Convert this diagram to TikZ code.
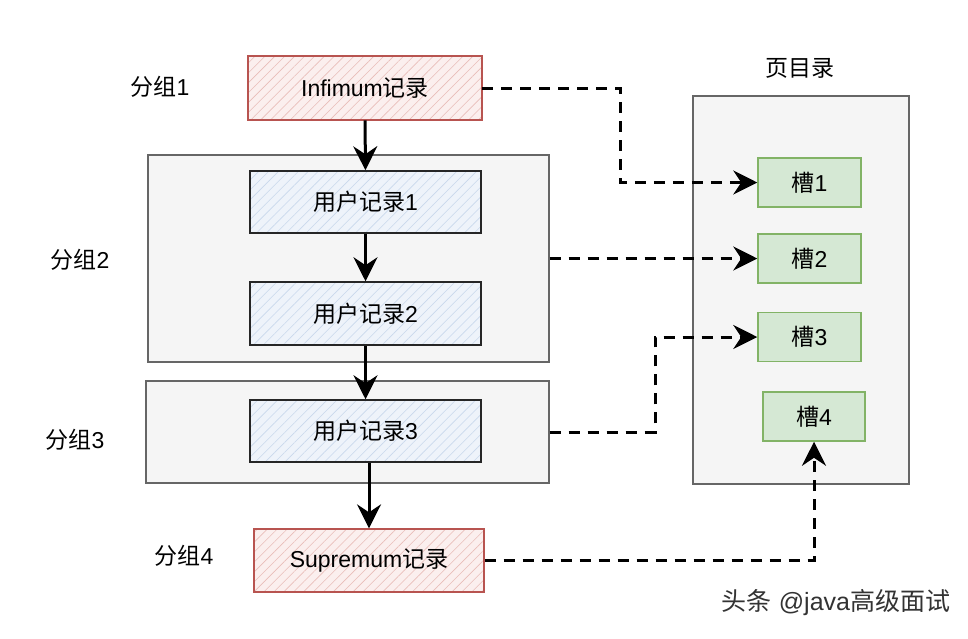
\documentclass[tikz,border=0pt]{standalone}
\usepackage{fontspec}
\setmainfont{Liberation Sans}
\newfontfamily\cjk{Noto Sans CJK SC}
\usetikzlibrary{arrows.meta,patterns.meta}
\definecolor{redline}{HTML}{B85450}
\definecolor{redbg}{HTML}{FBEFEE}
\definecolor{redhatch}{HTML}{E9BDB9}
\definecolor{bluebg}{HTML}{EEF3FA}
\definecolor{bluehatch}{HTML}{C9D8EC}
\definecolor{greenbg}{HTML}{D5E8D4}
\definecolor{greenline}{HTML}{82B366}
\definecolor{grpbg}{HTML}{F5F5F5}
\definecolor{grpline}{HTML}{666666}
\definecolor{wmark}{HTML}{333333}
\tikzset{
  txt/.style={font=\fontsize{23}{27}\selectfont, text=black},
  grpbox/.style={draw=grpline, fill=grpbg, line width=1.3pt, rectangle},
  redrec/.style={txt, rectangle, draw=redline, line width=1.3pt, preaction={fill=redbg},
    pattern={Lines[angle=45,distance=7pt,line width=0.6pt]}, pattern color=redhatch},
  bluerec/.style={txt, rectangle, draw=black!85, line width=1.5pt, preaction={fill=bluebg},
    pattern={Lines[angle=45,distance=7pt,line width=0.6pt]}, pattern color=bluehatch},
  slotbox/.style={txt, rectangle, draw=greenline, fill=greenbg, line width=1.5pt,
    minimum width=103pt, minimum height=49pt},
  solidarr/.style={line width=3pt, -{Stealth[length=24pt,width=24pt,inset=8pt]}},
  dasharr/.style={line width=3pt, dash pattern=on 11pt off 8pt, -{Stealth[length=24pt,width=24pt,inset=8pt]}},
  lbl/.style={txt}
}
\begin{document}
\begin{tikzpicture}[x=1pt,y=-1pt]
\useasboundingbox[fill=white] (0,0) rectangle (968,638);
% group boxes
\node[grpbox, minimum width=401pt, minimum height=207pt] (g2) at (348.5,258.5) {};
\node[grpbox, minimum width=403pt, minimum height=102pt] (g3) at (347.5,432) {};
\node[grpbox, minimum width=216pt, minimum height=388pt] (pd) at (801,290) {};
% records
\node[redrec, minimum width=234pt, minimum height=64pt] (inf) at (365,88) {Infimum{\cjk 记录}};
\node[bluerec, minimum width=231pt, minimum height=62pt] (r1) at (365.5,202) {{\cjk 用户记录}1};
\node[bluerec, minimum width=231pt, minimum height=63pt] (r2) at (365.5,313.5) {{\cjk 用户记录}2};
\node[bluerec, minimum width=231pt, minimum height=62pt] (r3) at (365.5,431) {{\cjk 用户记录}3};
\node[redrec, minimum width=230pt, minimum height=63pt] (sup) at (369,560.5) {Supremum{\cjk 记录}};
% slots
\node[slotbox] (s1) at (809.5,182.5) {{\cjk 槽}1};
\node[slotbox] (s2) at (809.5,258.5) {{\cjk 槽}2};
\node[slotbox] (s3) at (809.5,337) {{\cjk 槽}3};
\node[slotbox, minimum width=102pt] (s4) at (814,416.5) {{\cjk 槽}4};
% labels
\node[lbl] (l1) at (160,87) {{\cjk 分组}1};
\node[lbl] (l2) at (80,260) {{\cjk 分组}2};
\node[lbl] (l3) at (75,440) {{\cjk 分组}3};
\node[lbl] (l4) at (184,556) {{\cjk 分组}4};
\node[lbl] (pdt) at (800,68) {\cjk 页目录};
\node[font=\fontsize{25}{29}\selectfont, text=wmark] (wm) at (836,603) {{\cjk 头条} @java{\cjk 高级面试}};
% solid arrows
\draw[solidarr] (inf.south) -- (r1.north);
\draw[solidarr] (r1.south) -- (r2.north);
\draw[solidarr] (r2.south) -- (r3.north);
\draw[solidarr] (r3.south -| sup.north) -- (sup.north);
% dashed arrows
\coordinate (k1) at (620,88);
\coordinate (k2) at (655,432);
\draw[dasharr] (inf.east) -- (inf.east -| k1) |- (s1.west);
\draw[dasharr] (g2.east) -- (s2.west);
\draw[dasharr] (g3.east) -- (g3.east -| k2) |- (s3.west);
\draw[dasharr] (sup.east) -| (s4.south);
\end{tikzpicture}
\end{document}
